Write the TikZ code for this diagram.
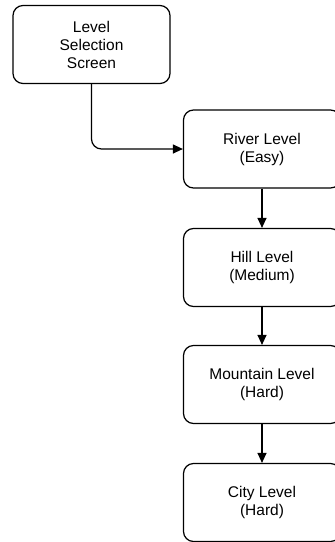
\documentclass[tikz,border=0pt]{standalone}
\usepackage{fontspec}
\setmainfont{Liberation Sans}
\usetikzlibrary{arrows.meta}

\begin{document}
\begin{tikzpicture}[x=1pt, y=-1pt, line width=1.2pt, every node/.style={draw, rounded corners=10pt, minimum width=157pt, minimum height=78pt, align=center, font=\fontsize{15.5}{18}\selectfont}]
                \clip (0,0) rectangle (335,542);
                % Les écrans
                \node (sel) at (91.5,44.5) {Level\\Selection\\Screen};
                \node (river) at (262,149) {River Level\\(Easy)};
                \node (hill) at (262,267.5) {Hill Level\\(Medium)};
                \node (mountain) at (262,384.5) {Mountain Level\\(Hard)};
                \node (city) at (262,502.5) {City Level\\(Hard)};

                % Les flèches
                \draw[-{Triangle[length=10pt,width=9pt]}, rounded corners=10pt] (sel.south) |- (river.west);
                \draw[-{Triangle[length=10pt,width=9pt]}] (river) -- (hill);
                \draw[-{Triangle[length=10pt,width=9pt]}] (hill) -- (mountain);
                \draw[-{Triangle[length=10pt,width=9pt]}] (mountain) -- (city);
            \end{tikzpicture}
\end{document}
